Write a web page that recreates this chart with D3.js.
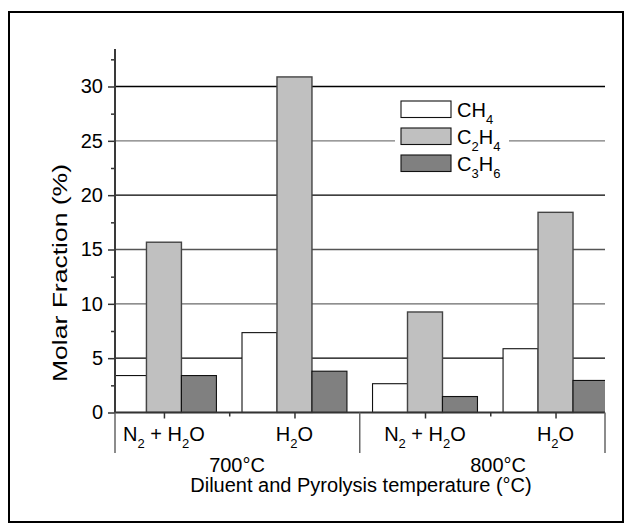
<!DOCTYPE html>
<html>
<head>
<meta charset="utf-8">
<script src="https://cdn.jsdelivr.net/npm/d3@7"></script>
<style>
body { margin: 0; background: #fff; }
svg text { font-family: "Liberation Sans", Arial, sans-serif; fill: #000; }
</style>
</head>
<body>
<svg class="chart"></svg>
<script>
// categories: [text, isSubscript]
var categories = [
    [["N", 0], ["2", 1], [" + H", 0], ["2", 1], ["O", 0]],
    [["H", 0], ["2", 1], ["O", 0]],
    [["N", 0], ["2", 1], [" + H", 0], ["2", 1], ["O", 0]],
    [["H", 0], ["2", 1], ["O", 0]]
];
var temperatures = ["700°C", "800°C"];
var seriesNames = [
    [["CH", 0], ["4", 1]],
    [["C", 0], ["2", 1], ["H", 0], ["4", 1]],
    [["C", 0], ["3", 1], ["H", 0], ["6", 1]]
];
var ch4 = [3.4, 7.35, 2.65, 5.87];
var c2h4 = [15.67, 30.88, 9.25, 18.42];
var c3h6 = [3.4, 3.8, 1.47, 2.95];
var yTicks = [0, 5, 10, 15, 20, 25, 30];
var yMinorTicks = [2.5, 7.5, 12.5, 17.5, 22.5, 27.5, 32.5];

var width = 631, height = 532;
var plotLeft = 115, plotRight = 605, plotTop = 49, plotBottom = 412.5;
var fontSize = "20px", subSize = "13px";
var fills = ["#ffffff", "#c0c0c0", "#808080"];
var gridColors = {5: "#000", 10: "#6a6a6a", 15: "#555", 20: "#000", 25: "#7a7a7a", 30: "#000"};

var chart = d3.select(".chart")
    .attr("width", width)
    .attr("height", height);

chart.append("rect")
    .attr("x", 9).attr("y", 12)
    .attr("width", 614).attr("height", 510)
    .attr("fill", "none")
    .attr("stroke", "#000")
    .attr("stroke-width", 2);

var y = d3.scaleLinear()
    .domain([0, 33.45])
    .range([plotBottom, plotTop]);

// category index -> px, groups about 130.5 px apart
var x = d3.scaleLinear()
    .domain([-0.375, 3.379])
    .range([plotLeft, plotRight]);
var barW = x(0.268) - x(0);

// gridlines
chart.append("g").selectAll("line")
    .data(yTicks.filter(function(d) { return d > 0; }))
    .enter().append("line")
    .attr("x1", plotLeft).attr("x2", plotRight)
    .attr("y1", function(d) { return y(d); })
    .attr("y2", function(d) { return y(d); })
    .attr("stroke", function(d) { return gridColors[d]; })
    .attr("stroke-width", 1.3);

chart.append("clipPath").attr("id", "plotclip")
    .append("rect")
    .attr("x", plotLeft).attr("y", 0)
    .attr("width", plotRight - plotLeft).attr("height", plotBottom + 1);

var series = [ch4, c2h4, c3h6];
var bars = chart.append("g").attr("clip-path", "url(#plotclip)");
series.forEach(function(vals, s) {
    bars.selectAll("rect.s" + s)
        .data(vals)
        .enter().append("rect")
        .attr("class", "s" + s)
        .attr("x", function(d, i) { return x(i) - barW / 2 + (s - 1) * barW; })
        .attr("y", function(d) { return y(d); })
        .attr("width", barW)
        .attr("height", function(d) { return y(0) - y(d); })
        .attr("fill", fills[s])
        .attr("stroke", s == 1 ? "#444" : "#111")
        .attr("stroke-width", s == 1 ? 1.4 : 1.1);
});

// legend
var legend = chart.append("g");
legend.append("rect")
    .attr("x", 395).attr("y", 94)
    .attr("width", 114).attr("height", 86)
    .attr("fill", "#fff");
seriesNames.forEach(function(name, i) {
    var ly = 101 + i * 27;
    legend.append("rect")
        .attr("x", 401).attr("y", ly)
        .attr("width", 50).attr("height", 16.5)
        .attr("fill", fills[i])
        .attr("stroke", "#111")
        .attr("stroke-width", 1.1);
    richText(legend, name, 457, ly + 16, "start");
});

// y axis
var yAxis = chart.append("g")
    .attr("transform", "translate(" + plotLeft + ",0)")
    .call(d3.axisLeft(y).tickValues(yTicks).tickSize(7).tickPadding(5).tickFormat(d3.format("d")));
yAxis.select(".domain").remove();
yAxis.selectAll(".tick line").attr("stroke", "#333").attr("stroke-width", 1.5);
yAxis.selectAll(".tick text").style("font-size", fontSize).attr("fill", "#000");

chart.append("g")
    .attr("transform", "translate(" + plotLeft + ",0)")
    .call(d3.axisLeft(y).tickValues(yMinorTicks).tickSize(4).tickFormat(""))
    .call(function(g) {
        g.select(".domain").remove();
        g.selectAll(".tick line").attr("stroke", "#333").attr("stroke-width", 1.5);
    });

chart.append("line")
    .attr("x1", plotLeft).attr("x2", plotLeft)
    .attr("y1", plotTop).attr("y2", plotBottom)
    .attr("stroke", "#3a3a3a").attr("stroke-width", 2);

// x axis
chart.append("line")
    .attr("x1", plotLeft - 1).attr("x2", plotRight)
    .attr("y1", plotBottom).attr("y2", plotBottom)
    .attr("stroke", "#333").attr("stroke-width", 2);

var xAxis = chart.append("g")
    .attr("transform", "translate(0," + plotBottom + ")")
    .call(d3.axisBottom(x).tickValues([0, 1, 2, 3]).tickSize(6).tickFormat(""));
xAxis.select(".domain").remove();
xAxis.selectAll(".tick line").attr("stroke", "#333").attr("stroke-width", 1.5);

chart.append("g")
    .attr("transform", "translate(0," + plotBottom + ")")
    .call(d3.axisBottom(x).tickValues([0.5, 2.5]).tickSize(4).tickFormat(""))
    .call(function(g) {
        g.select(".domain").remove();
        g.selectAll(".tick line").attr("stroke", "#333").attr("stroke-width", 1.5);
    });

// group separators
chart.append("g").selectAll("line")
    .data([-0.375, 1.5, 3.379])
    .enter().append("line")
    .attr("x1", function(d) { return x(d); })
    .attr("x2", function(d) { return x(d); })
    .attr("y1", plotBottom).attr("y2", 453)
    .attr("stroke", "#666").attr("stroke-width", 1.5);

categories.forEach(function(c, i) {
    richText(chart, c, x(i), 441, "middle");
});

chart.append("g").selectAll("text")
    .data(temperatures)
    .enter().append("text")
    .attr("x", function(d, i) { return x(0.56 + 2 * i); })
    .attr("y", 472)
    .attr("text-anchor", "middle")
    .style("font-size", fontSize)
    .text(function(d) { return d; });

chart.append("text")
    .attr("x", 361)
    .attr("y", 492)
    .attr("text-anchor", "middle")
    .style("font-size", fontSize)
    .text("Diluent and Pyrolysis temperature (°C)");

// the reference label is stretched along the axis
chart.append("text")
    .attr("transform", "translate(67,273) rotate(-90)")
    .attr("text-anchor", "middle")
    .attr("textLength", 218)
    .attr("lengthAdjust", "spacingAndGlyphs")
    .style("font-size", fontSize)
    .text("Molar Fraction (%)");

function richText(g, parts, tx, ty, anchor) {
    var t = g.append("text")
        .attr("x", tx).attr("y", ty)
        .attr("text-anchor", anchor)
        .style("font-size", fontSize);
    var prevSub = false;
    parts.forEach(function(p) {
        var dy = 0;
        if (p[1] && !prevSub) dy = 7;
        if (!p[1] && prevSub) dy = -7;
        t.append("tspan")
            .attr("dy", dy)
            .style("font-size", p[1] ? subSize : fontSize)
            .text(p[0]);
        prevSub = p[1];
    });
    return t;
}
</script>
</body>
</html>
